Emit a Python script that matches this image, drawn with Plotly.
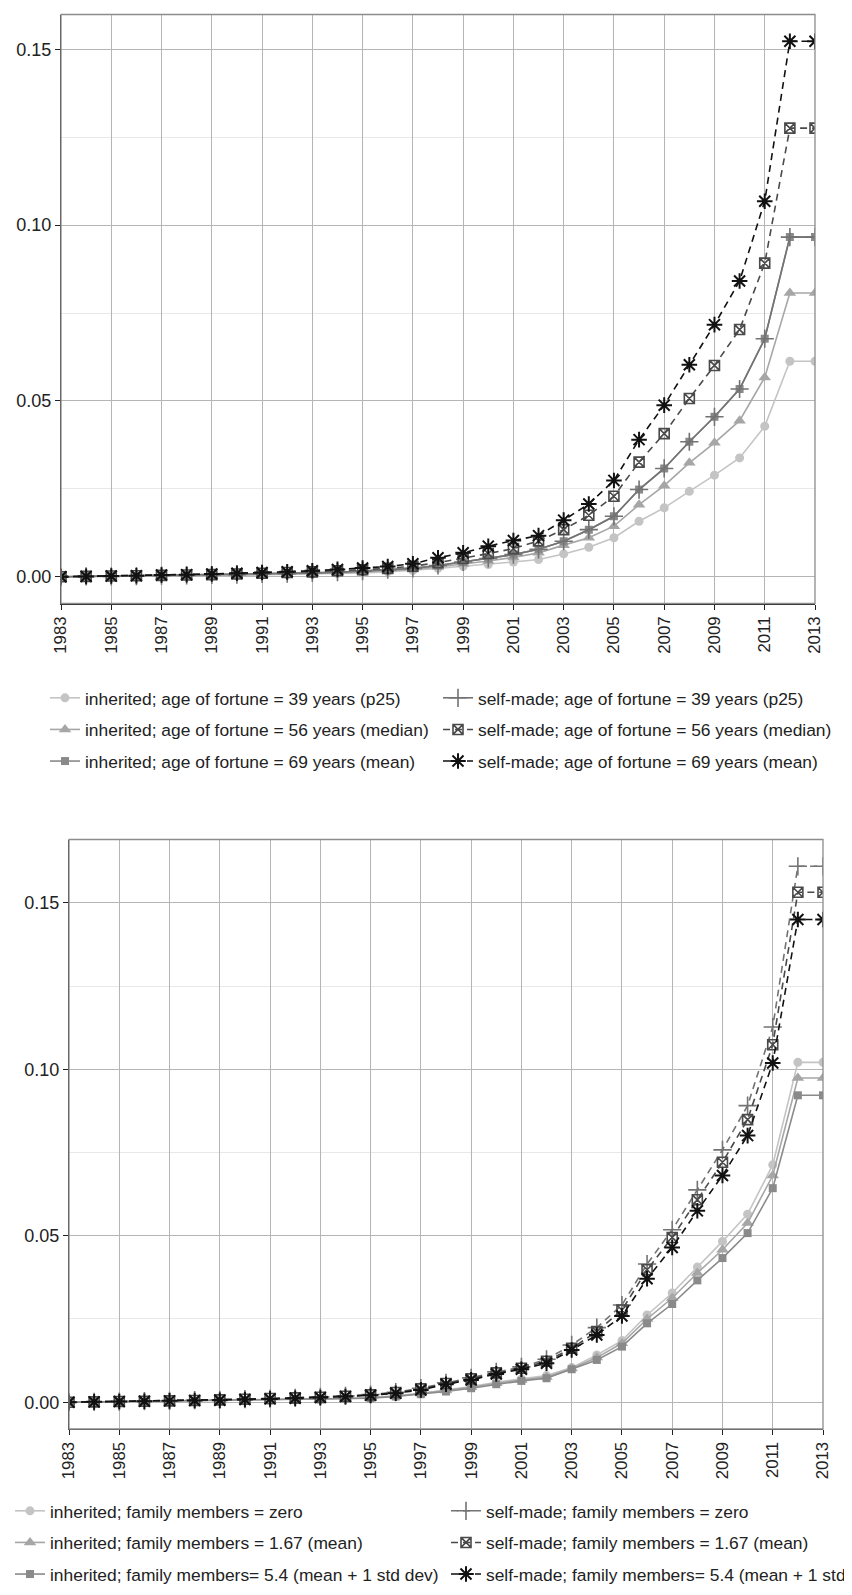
import plotly.graph_objects as go

W, H = 852, 1595

years = list(range(1983, 2014))
tick_years = list(range(1983, 2014, 2))
y_ticks = [0.0, 0.05, 0.10, 0.15]

# ---- top chart: age of fortune ----
top_inh_p25 = [0.0000, 0.0001, 0.0001, 0.0001, 0.0002, 0.0003, 0.0003, 0.0004, 0.0005, 0.0006,
               0.0008, 0.0009, 0.0011, 0.0014, 0.0018, 0.0024, 0.0030, 0.0035, 0.0042, 0.0049,
               0.0065, 0.0084, 0.0111, 0.0158, 0.0196, 0.0243, 0.0289, 0.0338, 0.0428, 0.0613, 0.0613]
top_inh_median = [0.0000, 0.0001, 0.0001, 0.0002, 0.0003, 0.0003, 0.0004, 0.0005, 0.0006, 0.0008,
                  0.0009, 0.0011, 0.0014, 0.0017, 0.0021, 0.0028, 0.0036, 0.0045, 0.0055, 0.0068,
                  0.0090, 0.0111, 0.0144, 0.0205, 0.0259, 0.0324, 0.0381, 0.0444, 0.0567, 0.0807, 0.0807]
top_inh_mean = [0.0000, 0.0001, 0.0001, 0.0002, 0.0003, 0.0004, 0.0005, 0.0006, 0.0008, 0.0009,
                0.0011, 0.0013, 0.0016, 0.0020, 0.0024, 0.0032, 0.0042, 0.0052, 0.0063, 0.0078,
                0.0101, 0.0134, 0.0172, 0.0248, 0.0308, 0.0384, 0.0455, 0.0534, 0.0677, 0.0966, 0.0966]
top_self_p25 = [0.0000, 0.0001, 0.0001, 0.0002, 0.0003, 0.0004, 0.0005, 0.0006, 0.0008, 0.0009,
                0.0011, 0.0013, 0.0016, 0.0020, 0.0024, 0.0032, 0.0042, 0.0052, 0.0063, 0.0078,
                0.0101, 0.0134, 0.0172, 0.0248, 0.0308, 0.0384, 0.0455, 0.0534, 0.0677, 0.0966, 0.0966]
top_self_median = [0.0000, 0.0001, 0.0002, 0.0003, 0.0004, 0.0005, 0.0006, 0.0008, 0.0010, 0.0012,
                   0.0014, 0.0017, 0.0020, 0.0024, 0.0030, 0.0040, 0.0052, 0.0066, 0.0080, 0.0102,
                   0.0134, 0.0175, 0.0229, 0.0326, 0.0407, 0.0507, 0.0601, 0.0703, 0.0892, 0.1276, 0.1276]
top_self_mean = [0.0000, 0.0001, 0.0002, 0.0003, 0.0005, 0.0006, 0.0008, 0.0010, 0.0012, 0.0014,
                 0.0017, 0.0021, 0.0025, 0.0029, 0.0037, 0.0054, 0.0068, 0.0087, 0.0103, 0.0117,
                 0.0161, 0.0207, 0.0274, 0.0390, 0.0488, 0.0603, 0.0717, 0.0841, 0.1068, 0.1523, 0.1523]

top_labels = [
    "inherited; age of fortune = 39 years (p25)",
    "inherited; age of fortune = 56 years (median)",
    "inherited; age of fortune = 69 years (mean)",
    "self-made; age of fortune = 39 years (p25)",
    "self-made; age of fortune = 56 years (median)",
    "self-made; age of fortune = 69 years (mean)",
]

# ---- bottom chart: family members ----
bot_inh_zero = [0.0000, 0.0001, 0.0001, 0.0002, 0.0002, 0.0003, 0.0004, 0.0005, 0.0006, 0.0007,
                0.0009, 0.0011, 0.0014, 0.0019, 0.0027, 0.0037, 0.0047, 0.0060, 0.0070, 0.0080,
                0.0104, 0.0142, 0.0185, 0.0262, 0.0328, 0.0406, 0.0483, 0.0565, 0.0713, 0.1021, 0.1021]
bot_inh_167 = [0.0000, 0.0001, 0.0001, 0.0002, 0.0002, 0.0003, 0.0004, 0.0005, 0.0006, 0.0007,
               0.0009, 0.0011, 0.0013, 0.0018, 0.0026, 0.0035, 0.0045, 0.0057, 0.0067, 0.0076,
               0.0101, 0.0134, 0.0177, 0.0250, 0.0313, 0.0388, 0.0458, 0.0538, 0.0681, 0.0974, 0.0974]
bot_inh_54 = [0.0000, 0.0001, 0.0001, 0.0002, 0.0002, 0.0003, 0.0004, 0.0005, 0.0006, 0.0007,
              0.0008, 0.0010, 0.0012, 0.0017, 0.0024, 0.0032, 0.0042, 0.0054, 0.0064, 0.0072,
              0.0099, 0.0127, 0.0167, 0.0237, 0.0295, 0.0366, 0.0433, 0.0508, 0.0643, 0.0922, 0.0922]
bot_self_zero = [0.0000, 0.0001, 0.0002, 0.0003, 0.0004, 0.0006, 0.0007, 0.0009, 0.0011, 0.0013,
                 0.0016, 0.0019, 0.0023, 0.0030, 0.0042, 0.0058, 0.0073, 0.0091, 0.0106, 0.0129,
                 0.0172, 0.0224, 0.0292, 0.0415, 0.0518, 0.0638, 0.0758, 0.0891, 0.1127, 0.1610, 0.1610]
bot_self_167 = [0.0000, 0.0001, 0.0002, 0.0003, 0.0004, 0.0005, 0.0007, 0.0009, 0.0011, 0.0013,
                0.0015, 0.0018, 0.0022, 0.0029, 0.0040, 0.0056, 0.0070, 0.0088, 0.0102, 0.0123,
                0.0162, 0.0212, 0.0277, 0.0398, 0.0495, 0.0608, 0.0721, 0.0849, 0.1074, 0.1532, 0.1532]
bot_self_54 = [0.0000, 0.0001, 0.0002, 0.0003, 0.0004, 0.0005, 0.0006, 0.0008, 0.0010, 0.0012,
               0.0014, 0.0017, 0.0021, 0.0027, 0.0037, 0.0054, 0.0067, 0.0085, 0.0099, 0.0117,
               0.0157, 0.0202, 0.0259, 0.0371, 0.0465, 0.0575, 0.0681, 0.0801, 0.1019, 0.1450, 0.1450]

bot_labels = [
    "inherited; family members = zero",
    "inherited; family members = 1.67 (mean)",
    "inherited; family members= 5.4 (mean + 1 std dev)",
    "self-made; family members = zero",
    "self-made; family members = 1.67 (mean)",
    "self-made; family members= 5.4 (mean + 1 std dev)",
]

FONT = "Liberation Sans, Arial, sans-serif"

# styles: (symbol, size, color, line dash)
styles_top = [
    ("circle", 9, "#c4c4c4", "solid"),
    ("triangle-up", 11, "#a6a6a6", "solid"),
    ("square", 8, "#8a8a8a", "solid"),
    ("cross-thin-open", 13, "#737373", "solid"),
    ("square-x-open", 10, "#4a4a4a", "dash"),
    ("asterisk-open", 13, "#111111", "dash"),
]
styles_bot = [
    ("circle", 9, "#c4c4c4", "solid"),
    ("triangle-up", 11, "#a6a6a6", "solid"),
    ("square", 8, "#8a8a8a", "solid"),
    ("cross-thin-open", 13, "#737373", "dash"),
    ("square-x-open", 10, "#4a4a4a", "dash"),
    ("asterisk-open", 13, "#111111", "dash"),
]

fig = go.Figure()

def add_series(values, label, style, xa, ya, legend, group):
    sym, size, color, dash = style
    is_open = sym.endswith("-open")
    lw = 2.0 if sym.startswith("asterisk") else 1.6
    marker = dict(symbol=sym, size=size, color=color,
                  line=dict(color=color, width=lw if is_open else 0))
    fig.add_trace(go.Scatter(
        x=years, y=values, name=label, mode="lines+markers",
        line=dict(color=color, width=1.6, dash="7px,5px" if dash == "dash" else "solid"),
        marker=marker, xaxis=xa, yaxis=ya, legend=legend, legendgroup=group,
        showlegend=True,
    ))

top_series = [top_inh_p25, top_inh_median, top_inh_mean, top_self_p25, top_self_median, top_self_mean]
bot_series = [bot_inh_zero, bot_inh_167, bot_inh_54, bot_self_zero, bot_self_167, bot_self_54]

for i, (vals, lab, st) in enumerate(zip(top_series, top_labels, styles_top)):
    add_series(vals, lab, st, "x", "y", "legend" if i < 3 else "legend2", f"t{i}")
for i, (vals, lab, st) in enumerate(zip(bot_series, bot_labels, styles_bot)):
    add_series(vals, lab, st, "x2", "y2", "legend3" if i < 3 else "legend4", f"b{i}")

def px_x(p):
    return p / W

def px_y(p):
    return 1 - p / H

axis_common = dict(
    showline=True, linecolor="#222222", linewidth=1.3,
    ticks="outside", ticklen=5, tickwidth=1.3, tickcolor="#222222",
    showgrid=True, gridcolor="#b5b5b5", gridwidth=1.2, zeroline=False,
)

xaxis_common = dict(axis_common, range=[1983, 2013], tickmode="array", tickvals=tick_years,
                    ticktext=[str(v) for v in tick_years], tickangle=-90,
                    tickfont=dict(family=FONT, size=16.8, color="#222222"))
yaxis_common = dict(axis_common, tickmode="array", tickvals=y_ticks,
                    ticktext=["0.00", "0.05", "0.10", "0.15"],
                    tickfont=dict(family=FONT, size=18, color="#222222"),
                    minor=dict(tickmode="array", tickvals=[0.025, 0.075, 0.125],
                               showgrid=True, gridcolor="#e8e8e8", gridwidth=1.0, ticks=""))

legend_common = dict(
    orientation="v", xanchor="left", yanchor="top", bgcolor="rgba(0,0,0,0)",
    font=dict(family=FONT, size=17.4, color="#222222"), tracegroupgap=6,
    traceorder="grouped", itemwidth=30,
)

fig.update_layout(
    width=W, height=H, autosize=False,
    margin=dict(l=0, r=0, t=0, b=0, autoexpand=False),
    paper_bgcolor="white", plot_bgcolor="white",
    showlegend=True,
    xaxis=dict(xaxis_common, domain=[px_x(53), px_x(807)], anchor="y"),
    yaxis=dict(yaxis_common, domain=[px_y(595.5), px_y(6.5)], range=[-0.0076, 0.1599], anchor="x"),
    xaxis2=dict(xaxis_common, domain=[px_x(61), px_x(815)], anchor="y2"),
    yaxis2=dict(yaxis_common, domain=[px_y(1421), px_y(831.5)], range=[-0.00805, 0.16905], anchor="x2"),
    legend=dict(legend_common, x=px_x(37), y=px_y(672)),
    legend2=dict(legend_common, x=px_x(430), y=px_y(672)),
    legend3=dict(legend_common, x=px_x(2), y=px_y(1485)),
    legend4=dict(legend_common, x=px_x(438), y=px_y(1485)),
    shapes=[
        dict(type="rect", xref="x domain", yref="y domain", x0=0, x1=1, y0=0, y1=1,
             line=dict(color="#8c8c8c", width=1.3), layer="above"),
        dict(type="rect", xref="x2 domain", yref="y2 domain", x0=0, x1=1, y0=0, y1=1,
             line=dict(color="#8c8c8c", width=1.3), layer="above"),
    ],
)

fig.write_html("out.html")
